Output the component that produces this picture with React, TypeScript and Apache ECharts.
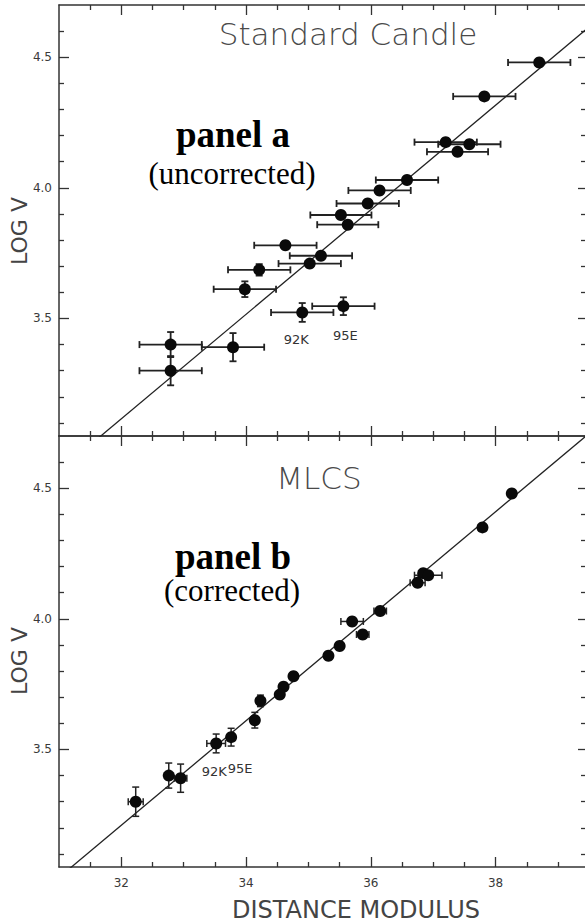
import { useEffect, useRef } from "react";
import * as echarts from "echarts";

// log V of each supernova (the same objects appear in both panels)
const logV = [4.48, 4.35, 4.175, 4.167, 4.138, 4.03, 3.99, 3.94, 3.896, 3.859, 3.78, 3.74, 3.71, 3.686, 3.612, 3.523, 3.547, 3.4, 3.39, 3.3];
const logVErr = [0.008, 0.008, 0.008, 0.008, 0.008, 0.01, 0.01, 0.01, 0.01, 0.01, 0.012, 0.012, 0.015, 0.022, 0.03, 0.036, 0.034, 0.048, 0.054, 0.056];
const sneNames = ["", "", "", "", "", "", "", "", "", "", "", "", "", "", "", "92K", "95E", "", "", ""];

// distance modulus, standard-candle assumption (panel a)
const muStandard = [38.7, 37.82, 37.2, 37.58, 37.39, 36.58, 36.14, 35.95, 35.52, 35.63, 34.63, 35.2, 35.02, 34.21, 33.98, 34.9, 35.56, 32.79, 33.79, 32.79];
const muStandardErr = [0.5, 0.5, 0.5, 0.5, 0.49, 0.5, 0.5, 0.5, 0.49, 0.49, 0.5, 0.5, 0.5, 0.5, 0.5, 0.5, 0.5, 0.5, 0.5, 0.5];

// distance modulus from MLCS light-curve shapes (panel b)
const muMlcs = [38.26, 37.79, 36.84, 36.92, 36.75, 36.15, 35.7, 35.87, 35.5, 35.32, 34.76, 34.6, 34.54, 34.23, 34.14, 33.52, 33.76, 32.76, 32.95, 32.23];
const muMlcsErr = [0.05, 0.05, 0.06, 0.22, 0.12, 0.1, 0.18, 0.1, 0.06, 0.06, 0.06, 0.06, 0.06, 0.06, 0.06, 0.15, 0.06, 0.08, 0.1, 0.12];

// Hubble-line fits: log V = slope * mu + intercept
const fitSlope = 0.2;
const fitInterceptStandard = -3.284;
const fitInterceptMlcs = -3.19;

// tick positions
const xMajor = [32, 34, 36, 38];
const xMinor = [31.5, 32.5, 33, 33.5, 34.5, 35, 35.5, 36.5, 37, 37.5, 38.5, 39];
const yMajor = [3.5, 4.0, 4.5];
const yMinor = [3.1, 3.2, 3.3, 3.4, 3.6, 3.7, 3.8, 3.9, 4.1, 4.2, 4.3, 4.4, 4.6];

const X_MIN = 31;
const X_MAX = 39.45;
const Y_MIN = 3.05;
const Y_MAX = 4.7;

const INK = "#333";
const SANS = "'DejaVu Sans', sans-serif";
const SERIF = "'Liberation Serif', 'Times New Roman', serif";

function makeAxis(
  dim: "x" | "y",
  gridIndex: number,
  position: string,
  values: number[],
  len: number,
  showLine: boolean,
  showLabels: boolean
) {
  return {
    type: "value",
    gridIndex,
    position,
    min: dim === "x" ? X_MIN : Y_MIN,
    max: dim === "x" ? X_MAX : Y_MAX,
    axisLine: { show: showLine, lineStyle: { color: INK, width: 1.5 } },
    axisTick: {
      show: true,
      inside: true,
      length: len,
      customValues: values,
      lineStyle: { color: INK, width: 1.3 },
    },
    axisLabel: {
      show: showLabels,
      customValues: values,
      margin: dim === "x" ? 10 : 7,
      color: "#3a3a3a",
      fontFamily: SANS,
      fontSize: 12,
      formatter: (v: number) => (dim === "y" ? v.toFixed(1) : String(v)),
    },
    splitLine: { show: false },
  };
}

function axesFor(gridIndex: number, xLabels: boolean) {
  const xs = [
    makeAxis("x", gridIndex, "bottom", xMajor, 10, true, xLabels),
    makeAxis("x", gridIndex, "bottom", xMinor, 5, false, false),
    makeAxis("x", gridIndex, "top", xMajor, 10, true, false),
    makeAxis("x", gridIndex, "top", xMinor, 5, false, false),
  ];
  const ys = [
    makeAxis("y", gridIndex, "left", yMajor, 10, true, true),
    makeAxis("y", gridIndex, "left", yMinor, 5, false, false),
    makeAxis("y", gridIndex, "right", yMajor, 8, true, false),
    makeAxis("y", gridIndex, "right", yMinor, 5, false, false),
  ];
  return { xs, ys };
}

function errorBarRenderer(cap: number, width: number) {
  return (_params: any, api: any) => {
    const x = api.value(0);
    const y = api.value(1);
    const ex = api.value(2);
    const ey = api.value(3);
    const c = api.coord([x, y]);
    const l = api.coord([x - ex, y]);
    const r = api.coord([x + ex, y]);
    const t = api.coord([x, y + ey]);
    const b = api.coord([x, y - ey]);
    const style = { stroke: "#222", lineWidth: width };
    const children: any[] = [];
    if (r[0] - l[0] > 10) {
      children.push(
        { type: "line", shape: { x1: l[0], y1: c[1], x2: r[0], y2: c[1] }, style },
        { type: "line", shape: { x1: l[0], y1: c[1] - cap, x2: l[0], y2: c[1] + cap }, style },
        { type: "line", shape: { x1: r[0], y1: c[1] - cap, x2: r[0], y2: c[1] + cap }, style }
      );
    }
    if (b[1] - t[1] > 10) {
      children.push(
        { type: "line", shape: { x1: c[0], y1: t[1], x2: c[0], y2: b[1] }, style },
        { type: "line", shape: { x1: c[0] - cap, y1: t[1], x2: c[0] + cap, y2: t[1] }, style },
        { type: "line", shape: { x1: c[0] - cap, y1: b[1], x2: c[0] + cap, y2: b[1] }, style }
      );
    }
    return { type: "group", children };
  };
}

// label placement for the two named objects, relative to their dots
const nameOffsetsStandard: Record<string, number[]> = { "92K": [-6, 27], "95E": [2, 29] };
const nameOffsetsMlcs: Record<string, number[]> = { "92K": [-2, 28], "95E": [9, 31] };

function panelSeries(
  idx: number,
  mu: number[],
  muErr: number[],
  intercept: number,
  offsets: Record<string, number[]>
) {
  const axisX = idx * 4;
  const axisY = idx * 4;
  const errData = mu.map((m, i) => [m, logV[i], muErr[i], logVErr[i]]);
  const dots = mu.map((m, i) => {
    const name = sneNames[i];
    if (!name) return [m, logV[i]];
    return {
      value: [m, logV[i]],
      label: {
        show: true,
        formatter: name,
        position: "inside",
        offset: offsets[name],
        color: "#333",
        textBorderWidth: 0,
        fontFamily: SANS,
        fontSize: 13,
      },
    };
  });
  return [
    {
      type: "line",
      xAxisIndex: axisX,
      yAxisIndex: axisY,
      data: [
        [X_MIN, fitSlope * X_MIN + intercept],
        [X_MAX, fitSlope * X_MAX + intercept],
      ],
      showSymbol: false,
      symbol: "none",
      clip: true,
      lineStyle: { color: "#222", width: 1.3 },
      z: 2,
      silent: true,
    },
    {
      type: "custom",
      xAxisIndex: axisX,
      yAxisIndex: axisY,
      data: errData,
      encode: { x: 0, y: 1 },
      renderItem: errorBarRenderer(3.5, idx === 0 ? 1.8 : 1.5),
      z: 3,
      silent: true,
    },
    {
      type: "scatter",
      xAxisIndex: axisX,
      yAxisIndex: axisY,
      data: dots,
      symbol: "circle",
      symbolSize: 12,
      itemStyle: { color: "#0a0a0a", opacity: 1 },
      z: 4,
      silent: true,
    },
  ];
}

export default function App() {
  const ref = useRef<HTMLDivElement>(null);

  useEffect(() => {
    if (!ref.current) return;
    const chart = echarts.init(ref.current, null, { renderer: "svg" });
    const a = axesFor(0, false);
    const b = axesFor(1, true);

    chart.setOption({
      animation: false,
      backgroundColor: "#fff",
      grid: [
        { left: 59, top: 5, width: 527, height: 431 },
        { left: 59, top: 436, width: 527, height: 431 },
      ],
      xAxis: [...a.xs, ...b.xs],
      yAxis: [...a.ys, ...b.ys],
      series: [
        ...panelSeries(0, muStandard, muStandardErr, fitInterceptStandard, nameOffsetsStandard),
        ...panelSeries(1, muMlcs, muMlcsErr, fitInterceptMlcs, nameOffsetsMlcs),
      ],
      graphic: [
        {
          type: "text",
          x: 348,
          y: 34,
          style: { text: "Standard Candle", font: `300 31px ${SANS}`, fill: "#4a4a4a", align: "center", verticalAlign: "middle" },
        },
        {
          type: "text",
          x: 319,
          y: 478,
          style: { text: "MLCS", font: `300 31px ${SANS}`, fill: "#4a4a4a", align: "center", verticalAlign: "middle" },
        },
        {
          type: "text",
          x: 233,
          y: 134,
          style: { text: "panel a", font: `bold 37px ${SERIF}`, fill: "#000", align: "center", verticalAlign: "middle" },
        },
        {
          type: "text",
          x: 232,
          y: 173,
          style: { text: "(uncorrected)", font: `31px ${SERIF}`, fill: "#000", align: "center", verticalAlign: "middle" },
        },
        {
          type: "text",
          x: 233,
          y: 556,
          style: { text: "panel b", font: `bold 37px ${SERIF}`, fill: "#000", align: "center", verticalAlign: "middle" },
        },
        {
          type: "text",
          x: 232,
          y: 590,
          style: { text: "(corrected)", font: `31px ${SERIF}`, fill: "#000", align: "center", verticalAlign: "middle" },
        },
        {
          type: "text",
          x: 19,
          y: 231,
          rotation: Math.PI / 2,
          style: { text: "LOG V", font: `22px ${SANS}`, fill: "#444", align: "center", verticalAlign: "middle" },
        },
        {
          type: "text",
          x: 19,
          y: 661,
          rotation: Math.PI / 2,
          style: { text: "LOG V", font: `22px ${SANS}`, fill: "#444", align: "center", verticalAlign: "middle" },
        },
        {
          type: "text",
          x: 356,
          y: 910,
          style: { text: "DISTANCE MODULUS", font: `24px ${SANS}`, fill: "#444", align: "center", verticalAlign: "middle" },
        },
      ],
    });

    return () => chart.dispose();
  }, []);

  return (
    <div
      style={{
        position: "fixed",
        left: 0,
        top: 0,
        width: 585,
        height: 924,
        overflow: "hidden",
        background: "#fff",
      }}
    >
      <div ref={ref} style={{ width: 592, height: 924 }} />
    </div>
  );
}
